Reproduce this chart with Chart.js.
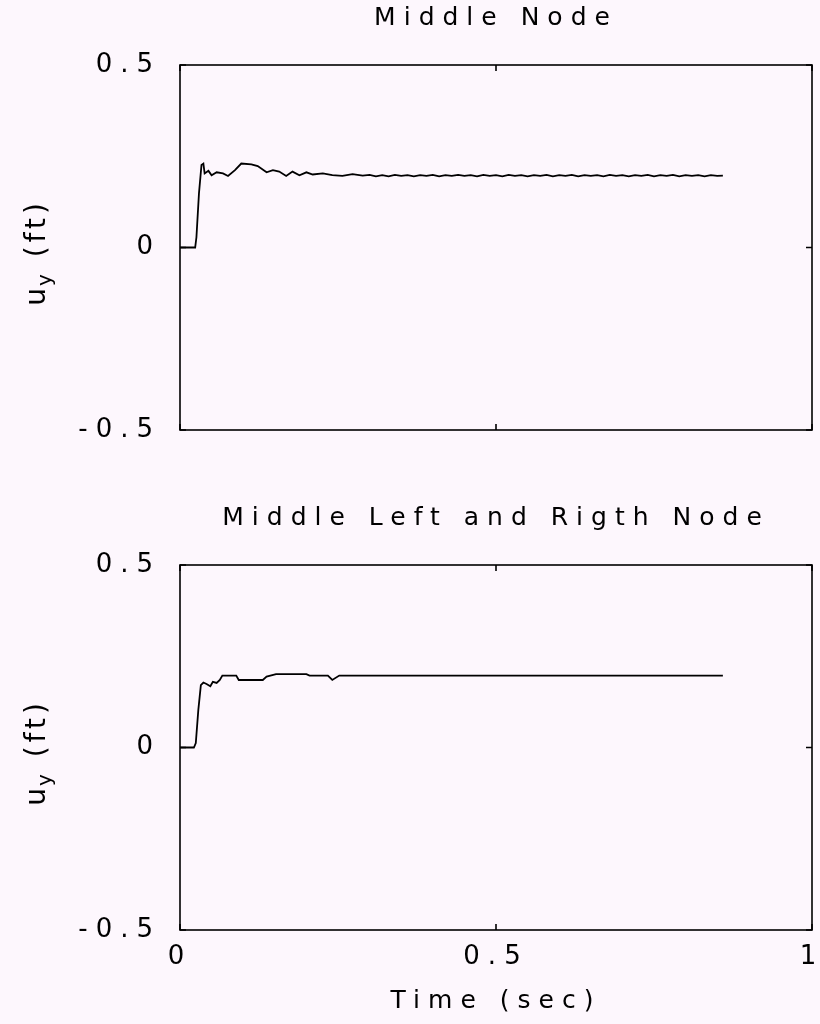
<!DOCTYPE html>
<html>
<head>
<meta charset="utf-8">
<script src="https://cdn.jsdelivr.net/npm/chart.js@4"></script>
<style>
  html, body { margin: 0; padding: 0; background: #fdf7fd; }
  canvas { position: absolute; left: 0; }
  #topChart { top: 0; }
  #bottomChart { top: 500px; }
</style>
</head>
<body>
<canvas id="topChart" width="820" height="470"></canvas>
<canvas id="bottomChart" width="820" height="524"></canvas>
<script>
// time (sec) and vertical displacement (ft)
const timeMiddle = [0, 0.024, 0.026, 0.030, 0.034, 0.037, 0.039, 0.045, 0.050, 0.058, 0.068, 0.076,
  0.087, 0.097, 0.113, 0.123, 0.137, 0.147, 0.157, 0.168, 0.178, 0.189, 0.200, 0.210, 0.226, 0.241,
  0.257, 0.273, 0.289, 0.30, 0.31, 0.32, 0.33, 0.34, 0.35, 0.36, 0.37, 0.38, 0.39, 0.40, 0.41, 0.42,
  0.43, 0.44, 0.45, 0.46, 0.47, 0.48, 0.49, 0.50, 0.51, 0.52, 0.53, 0.54, 0.55, 0.56, 0.57, 0.58,
  0.59, 0.60, 0.61, 0.62, 0.63, 0.64, 0.65, 0.66, 0.67, 0.68, 0.69, 0.70, 0.71, 0.72, 0.73, 0.74,
  0.75, 0.76, 0.77, 0.78, 0.79, 0.80, 0.81, 0.82, 0.83, 0.84, 0.85, 0.859];
const dispMiddle = [0, 0, 0.028, 0.148, 0.226, 0.230, 0.203, 0.210, 0.198, 0.206, 0.203, 0.196,
  0.212, 0.230, 0.228, 0.223, 0.206, 0.212, 0.208, 0.196, 0.208, 0.198, 0.206, 0.200, 0.203, 0.198,
  0.196, 0.201, 0.197, 0.199, 0.195, 0.198, 0.195, 0.199, 0.196, 0.198, 0.195, 0.198, 0.196, 0.199,
  0.195, 0.198, 0.196, 0.199, 0.196, 0.198, 0.195, 0.199, 0.196, 0.198, 0.195, 0.199, 0.196, 0.198,
  0.195, 0.198, 0.196, 0.199, 0.195, 0.198, 0.196, 0.199, 0.195, 0.198, 0.196, 0.198, 0.195, 0.199,
  0.196, 0.198, 0.195, 0.198, 0.196, 0.199, 0.195, 0.198, 0.196, 0.199, 0.195, 0.198, 0.196, 0.198,
  0.195, 0.198, 0.196, 0.197];

const timeSide = [0, 0.022, 0.025, 0.029, 0.033, 0.037, 0.042, 0.048, 0.052, 0.058, 0.063, 0.067,
  0.089, 0.093, 0.131, 0.137, 0.152, 0.200, 0.205, 0.234, 0.241, 0.252, 0.859];
const dispSide = [0, 0, 0.012, 0.103, 0.171, 0.178, 0.174, 0.168, 0.180, 0.177, 0.185, 0.197,
  0.197, 0.185, 0.185, 0.194, 0.201, 0.201, 0.197, 0.197, 0.185, 0.197, 0.197];

const xTicks = [0, 0.5, 1];
const xTickLabels = ['0', '0.5', '1'];
const yTicks = [-0.5, 0, 0.5];
const yTickLabels = ['-0.5', '0', '0.5'];

const titles = ['Middle Node', 'Middle Left and Rigth Node'];

const FONT = "'DejaVu Sans', Verdana, sans-serif";
Chart.defaults.font.family = FONT;
Chart.defaults.color = '#000';

function spacing(chart) {
  chart.ctx.letterSpacing = '8px';
}

// box around the plot, inward ticks and the u_y (ft) label
const frame = {
  id: 'frame',
  afterInit: spacing,
  beforeUpdate: spacing,
  beforeDraw: spacing,
  afterDatasetsDraw(chart) {
    const { ctx, chartArea: a, scales } = chart;
    ctx.save();
    ctx.strokeStyle = '#000';
    ctx.lineWidth = 1.6;
    ctx.strokeRect(a.left, a.top, a.right - a.left, a.bottom - a.top);
    ctx.beginPath();
    xTicks.forEach(v => {
      const px = scales.x.getPixelForValue(v);
      ctx.moveTo(px, a.top); ctx.lineTo(px, a.top + 6);
      ctx.moveTo(px, a.bottom); ctx.lineTo(px, a.bottom - 6);
    });
    yTicks.forEach(v => {
      const py = scales.y.getPixelForValue(v);
      ctx.moveTo(a.left, py); ctx.lineTo(a.left + 6, py);
      ctx.moveTo(a.right, py); ctx.lineTo(a.right - 6, py);
    });
    ctx.stroke();

    // rotated axis label with subscript
    ctx.translate(38, (a.top + a.bottom) / 2 + 4);
    ctx.rotate(-Math.PI / 2);
    ctx.fillStyle = '#000';
    ctx.textBaseline = 'middle';
    ctx.letterSpacing = '4px';
    const big = '28px ' + FONT;
    const small = '20px ' + FONT;
    ctx.font = big;
    const w1 = ctx.measureText('u').width;
    const w3 = ctx.measureText(' (ft)').width;
    ctx.font = small;
    const w2 = ctx.measureText('y').width;
    let x = -(w1 + w2 + w3) / 2;
    ctx.font = big;
    ctx.fillText('u', x, 0);
    x += w1;
    ctx.font = small;
    ctx.fillText('y', x - 2, 8);
    x += w2;
    ctx.font = big;
    ctx.fillText(' (ft)', x - 2, 0);
    ctx.restore();
  }
};

function makeChart(id, times, disps, title, bottomAxis, xHeight) {
  const points = times.map((t, i) => ({ x: t, y: disps[i] }));
  return new Chart(document.getElementById(id), {
    type: 'line',
    data: {
      datasets: [{
        data: points,
        borderColor: '#000',
        borderWidth: 1.8,
        pointRadius: 0,
        tension: 0,
        fill: false
      }]
    },
    options: {
      responsive: false,
      animation: false,
      layout: { padding: { left: 0, right: 8, top: 0, bottom: 0 } },
      plugins: {
        legend: { display: false },
        tooltip: { enabled: false },
        title: {
          display: true,
          text: title,
          fullSize: false,
          color: '#000',
          font: { size: 25, weight: 'normal' },
          padding: { top: 3, bottom: 32 }
        }
      },
      scales: {
        x: {
          type: 'linear',
          min: 0,
          max: 1,
          afterBuildTicks: s => { s.ticks = xTicks.map(v => ({ value: v })); },
          afterFit: s => { s.height = xHeight; s.paddingLeft = 0; s.paddingRight = 0; },
          grid: { display: false, drawTicks: false },
          border: { display: false },
          ticks: {
            display: bottomAxis,
            padding: 12,
            font: { size: 26 },
            callback: (v, i) => xTickLabels[i]
          },
          title: {
            display: bottomAxis,
            text: 'Time (sec)',
            font: { size: 25 },
            padding: { top: 10, bottom: 8 }
          }
        },
        y: {
          type: 'linear',
          min: -0.5,
          max: 0.5,
          afterBuildTicks: s => { s.ticks = yTicks.map(v => ({ value: v })); },
          afterFit: s => { s.width = 180; s.paddingTop = 0; s.paddingBottom = 0; },
          grid: { display: false, drawTicks: false },
          border: { display: false },
          ticks: {
            padding: 19,
            font: { size: 26 },
            callback: (v, i) => yTickLabels[i]
          }
        }
      }
    },
    plugins: [frame]
  });
}

makeChart('topChart', timeMiddle, dispMiddle, titles[0], false, 40);
makeChart('bottomChart', timeSide, dispSide, titles[1], true, 94);
</script>
</body>
</html>
